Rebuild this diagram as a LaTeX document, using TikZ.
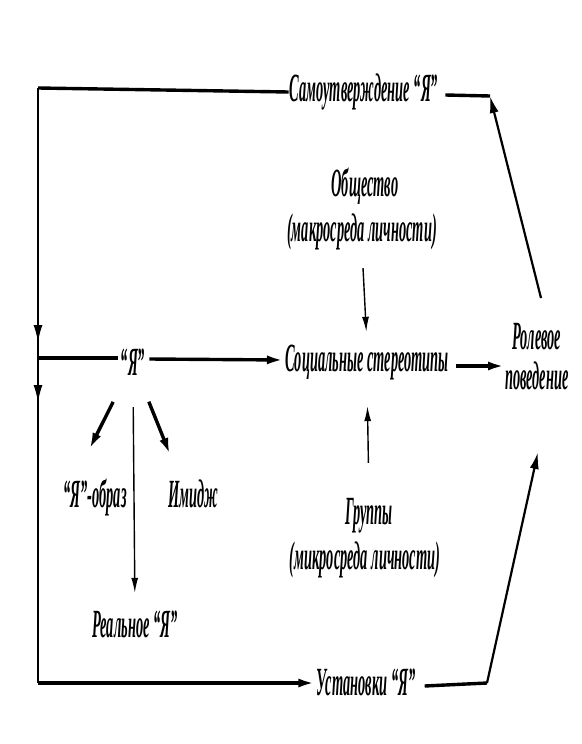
\documentclass[tikz,border=0pt]{standalone}
\usepackage{fontspec}
\newfontfamily\cf{Liberation Serif}[FakeStretch=0.36]
\usetikzlibrary{arrows.meta}
\begin{document}
\begin{tikzpicture}[x=1pt,y=-1pt,
  lab/.style={font=\cf\bfseries\itshape\fontsize{40}{42}\selectfont, inner sep=1pt, text height=24pt, text depth=6pt},
  heavy/.style={line width=3.4pt},
  med/.style={line width=2.2pt},
  thin/.style={line width=1.4pt},
  tip/.style={-{Latex[length=17pt,width=9pt]}},
  stip/.style={-{Latex[length=15pt,width=7pt]}}]
\useasboundingbox (0,0) rectangle (581,744);
% nodes
\node[lab] (samo) at (364,92) {Самоутверждение “Я”};
\node[lab] (obsh) at (365,187) {Общество};
\node[lab] (makro) at (362,232) {(макросреда личности)};
\node[lab] (soc) at (367,362) {Социальные стереотипы};
\node[lab] (rol) at (537,340) {Ролевое};
\node[lab] (pov) at (537,380) {поведение};
\node[lab] (ya) at (133,366) {“Я”};
\node[lab] (obraz) at (95,498) {“Я”-образ};
\node[lab] (imidzh) at (193,498) {Имидж};
\node[lab] (gruppy) at (369,515) {Группы};
\node[lab] (mikro) at (365,560) {(микросреда личности)};
\node[lab] (real) at (135,628) {Реальное “Я”};
\node[lab] (ust) at (366,686) {Установки “Я”};
% coordinates
\coordinate (tl) at (38,88);
\coordinate (bl) at (38,683);
\coordinate (jn) at (38,358);
\coordinate (a1) at (38,342);
\coordinate (a2) at (38,402);
\coordinate (tr) at (490,96);
\coordinate (rtop) at (541,298);
\coordinate (br) at (487,683);
\coordinate (rbot) at (538,452);
\coordinate (socr) at (505,366);
\coordinate (yaw) at (118,358);
% left loop
\draw[heavy] (samo.west) -- (tl);
\draw[thin] (tl) -- (bl);
\draw[thin,tip] (tl) -- (a1);
\draw[thin,tip] (jn) -- (a2);
\draw[heavy] (jn) -- (yaw);
\draw[heavy,tip] (bl) -- ([yshift=3pt]ust.west);
% middle row
\draw[heavy,tip] ([xshift=3pt,yshift=7pt]ya.east) -- ([yshift=2pt]soc.west);
\draw[heavy,tip] ([xshift=6pt,yshift=-4pt]soc.east) -- (socr);
% right side
\draw[heavy] ([xshift=6pt,yshift=-3pt]samo.east) -- (tr);
\draw[med,tip] (rtop) -- (tr);
\draw[heavy] ([xshift=8pt]ust.east) -- (br);
\draw[med,tip] (br) -- (rbot);
% society / groups
\draw[thin,stip,shorten <=20pt,shorten >=14pt] (makro.south) -- (soc.north);
\draw[thin,stip,shorten <=36pt,shorten >=28pt] (gruppy.north) -- (soc.south);
% from Я
\draw[heavy,tip,shorten <=22pt,shorten >=36pt] ([xshift=-10pt]ya.south) -- ([xshift=-22pt]obraz.north);
\draw[heavy,tip,shorten <=21pt,shorten >=29pt] ([xshift=8pt]ya.south) -- ([xshift=-12pt]imidzh.north);
\draw[thin,stip,shorten <=25pt,shorten >=19pt] (ya.south) -- (real.north);
\end{tikzpicture}
\end{document}
